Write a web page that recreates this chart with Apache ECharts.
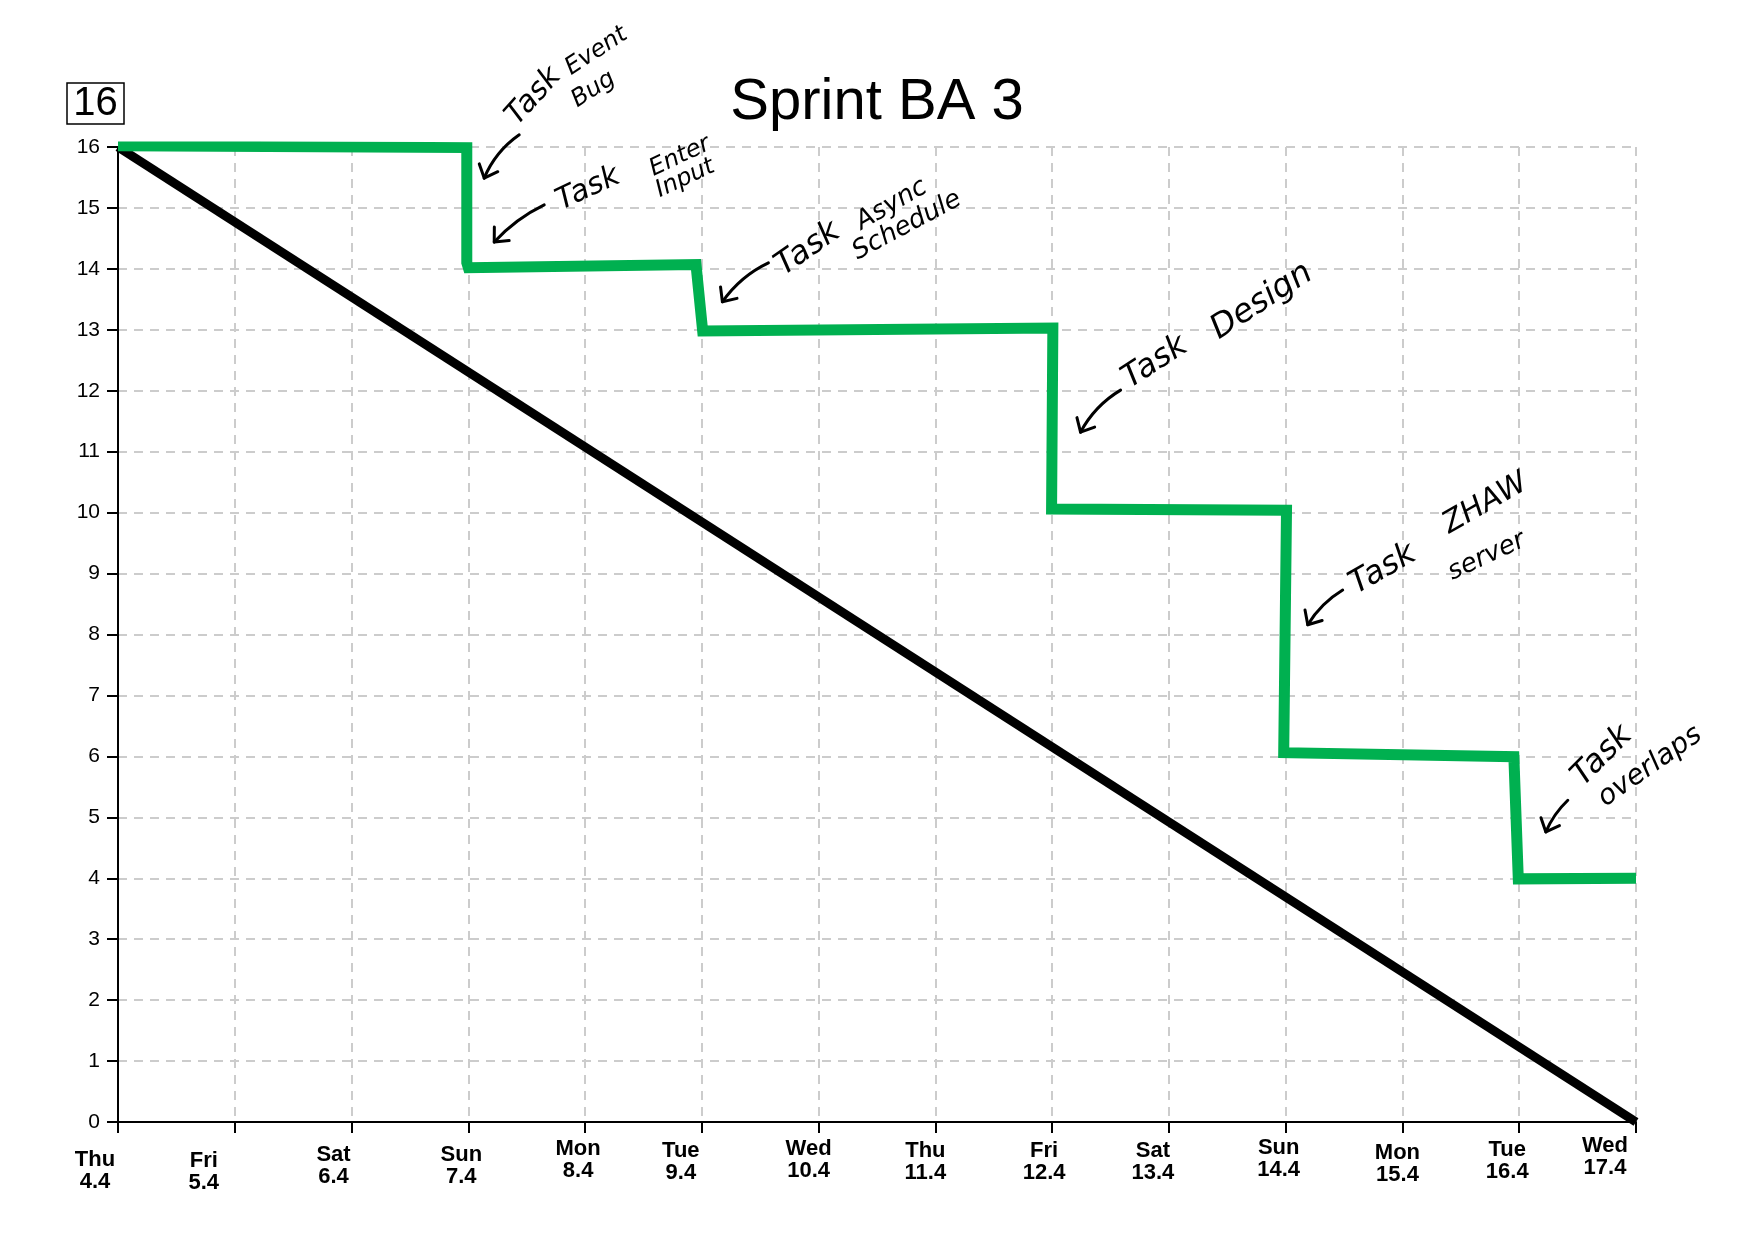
<!DOCTYPE html>
<html>
<head>
<meta charset="utf-8">
<script src="https://cdn.jsdelivr.net/npm/echarts@6/dist/echarts.min.js"></script>
<style>
  html, body { margin: 0; padding: 0; background: #fff; }
  #chart { width: 1754px; height: 1241px; }
</style>
</head>
<body>
<div id="chart"></div>
<script>
// ---------------- data ----------------
const chartTitle = 'Sprint BA 3';
const totalPoints = 16;
const dayNames  = ['Thu','Fri','Sat','Sun','Mon','Tue','Wed','Thu','Fri','Sat','Sun','Mon','Tue','Wed'];
const dayDates  = ['4.4','5.4','6.4','7.4','8.4','9.4','10.4','11.4','12.4','13.4','14.4','15.4','16.4','17.4'];
const yTicks    = [0,1,2,3,4,5,6,7,8,9,10,11,12,13,14,15,16];

// ideal burndown: from total points on day 0 to zero on the last day
const idealX = [0, 13];
const idealY = [16, 0];

// actual (hand-drawn) remaining work, x in days since start
const actualX = [0, 2.987, 2.987, 3.0, 4.95, 5.007, 8.006, 7.995, 10.007, 9.983, 11.954, 11.992, 13];
const actualY = [16.02, 15.99, 14.1, 14.02, 14.07, 12.98, 13.03, 10.06, 10.04, 6.06, 5.995, 3.99, 4.0];

// handwritten notes: text pieces anchored in data units (day, points)
const noteTexts  = ['Task','Event','Bug','Task','Enter','Input','Task','Async','Schedule','Task','Design','Task','ZHAW','server','Task','overlaps'];
const noteX      = [3.465,3.907,3.959,3.823,4.606,4.661,5.738,6.395,6.358,8.700,9.463,10.637,11.431,11.450,12.592,12.770];
const noteY      = [16.26,17.10,16.57,14.86,15.44,15.09,13.78,14.55,14.06,11.93,12.73,8.55,9.55,8.80,5.41,5.08];
// arrows: start -> tip, in data units
const arrowFromX = [3.436, 3.650, 5.570, 8.586, 10.488, 12.416];
const arrowFromY = [16.20, 15.05, 14.10, 12.01, 8.73, 5.28];
const arrowToX   = [3.136, 3.222, 5.176, 8.243, 10.189, 12.228];
const arrowToY   = [15.49, 14.44, 13.46, 11.32, 8.16, 4.76];

// ---------------- style ----------------
const noteAngle = [48,33,33,25,25,25,35,30,28,33,33,30,30,25,45,35];
const noteSize  = [30,24,24,30,24,24,32,26,26,32,33,32,30,26,32,28];
const arrowBow  = [8, 6, 8, 8, 6, 4];
// x-axis label nudges (scan wobble): [left shift, down shift] in px
const labelShiftX = [23, 31, 18, 7, 7, 21, 10, 10, 8, 16, 7, 5, 12, 31];
const labelShiftY = [13.6, 15, 9.3, 9.3, 2.6, 5, 2.6, 5, 5, 5, 1.6, 7, 4.3, 0];
const GREEN = '#00B050';
const GRID_COLOR = '#cccccc';
const XLABEL_FONT = '"Liberation Sans Narrow", "Liberation Sans", Arial, sans-serif';

const rich = {};
dayNames.forEach((_, i) => {
  rich['t' + i] = { fontFamily: XLABEL_FONT, fontWeight: 'bold', fontSize: 22, lineHeight: 22 + labelShiftY[i],
                    color: '#000', padding: [labelShiftY[i], 2 * labelShiftX[i], 0, 0], verticalAlign: 'bottom' };
  rich['d' + i] = { fontFamily: XLABEL_FONT, fontWeight: 'bold', fontSize: 22, lineHeight: 22,
                    color: '#000', padding: [0, 2 * labelShiftX[i], 0, 0] };
});

const chart = echarts.init(document.getElementById('chart'), null, {renderer: 'canvas'});

const option = {
  animation: false,
  backgroundColor: '#ffffff',
  title: {
    text: chartTitle,
    left: 'center',
    top: 74,
    padding: 0,
    textStyle: { fontFamily: 'Liberation Sans', fontSize: 58, fontWeight: 'normal', color: '#000' }
  },
  grid: { left: 118, right: 118, top: 147, bottom: 119, containLabel: false },
  xAxis: {
    type: 'value', min: 0, max: dayNames.length - 1, interval: 1,
    axisLine: { show: true, onZero: false, lineStyle: { color: '#000', width: 2 } },
    axisTick: { show: true, inside: false, length: 11, lineStyle: { color: '#000', width: 2 } },
    axisLabel: {
      margin: 13,
      color: '#000',
      fontFamily: XLABEL_FONT,
      fontWeight: 'bold',
      fontSize: 22,
      lineHeight: 22,
      rich: rich,
      formatter: function (v) { return '{t' + v + '|' + dayNames[v] + '}\n{d' + v + '|' + dayDates[v] + '}'; }
    },
    splitLine: { show: true, lineStyle: { color: GRID_COLOR, width: 2, type: [9, 7] } }
  },
  yAxis: {
    type: 'value', min: yTicks[0], max: yTicks[yTicks.length - 1], interval: 1,
    axisLine: { show: true, onZero: false, lineStyle: { color: '#000', width: 2 } },
    axisTick: { show: true, inside: false, length: 11, lineStyle: { color: '#000', width: 2 } },
    axisLabel: { margin: 18, color: '#000', fontFamily: 'Liberation Sans', fontSize: 21 },
    splitLine: { show: true, lineStyle: { color: GRID_COLOR, width: 2, type: [9, 7] } }
  },
  series: [
    {
      name: 'Ideal', type: 'line', showSymbol: false, symbol: 'none', silent: true,
      data: idealX.map((x, i) => [x, idealY[i]]),
      lineStyle: { color: '#000', width: 9, cap: 'butt' },
      z: 3
    },
    {
      name: 'Actual', type: 'line', showSymbol: false, symbol: 'none', silent: true,
      data: actualX.map((x, i) => [x, actualY[i]]),
      lineStyle: { color: GREEN, width: 11, cap: 'butt', join: 'miter' },
      z: 4
    }
  ]
};
chart.setOption(option);

// ---------- annotations (positioned through the chart's own scales) ----------
function px(x, y) { return chart.convertToPixel({ gridIndex: 0 }, [x, y]); }
const graphics = [];

// total-points box
graphics.push({
  type: 'rect', shape: { x: 67, y: 83, width: 57, height: 41 },
  style: { fill: 'none', stroke: '#000', lineWidth: 1.5 }, z: 10
});
graphics.push({
  type: 'text', x: 95.5, y: 104,
  style: { text: String(totalPoints), font: '40px "Liberation Sans"', fill: '#000',
           align: 'center', verticalAlign: 'middle', textAlign: 'center', textVerticalAlign: 'middle' },
  z: 10
});

const noteFont = '"DejaVu Sans", "Noto Sans", sans-serif';
noteTexts.forEach((t, i) => {
  const p = px(noteX[i], noteY[i]);
  graphics.push({
    type: 'text', x: p[0], y: p[1], rotation: noteAngle[i] * Math.PI / 180,
    style: { text: t, font: 'italic ' + noteSize[i] + 'px ' + noteFont, fill: '#000',
             align: 'left', verticalAlign: 'bottom', textAlign: 'left', textVerticalAlign: 'bottom' },
    z: 10
  });
});

arrowFromX.forEach((_, i) => {
  const a = px(arrowFromX[i], arrowFromY[i]);
  const b = px(arrowToX[i], arrowToY[i]);
  const dx = b[0] - a[0], dy = b[1] - a[1];
  const len = Math.hypot(dx, dy);
  const nx = -dy / len, ny = dx / len;
  const cp = [(a[0] + b[0]) / 2 + nx * arrowBow[i], (a[1] + b[1]) / 2 + ny * arrowBow[i]];
  graphics.push({
    type: 'bezierCurve',
    shape: { x1: a[0], y1: a[1], x2: b[0], y2: b[1], cpx1: cp[0], cpy1: cp[1] },
    style: { stroke: '#000', lineWidth: 3, fill: 'none', lineCap: 'round' }, z: 10
  });
  // arrow head
  let ux = b[0] - cp[0], uy = b[1] - cp[1];
  const ul = Math.hypot(ux, uy); ux /= ul; uy /= ul;
  const L = 15, ang = 42 * Math.PI / 180;
  const rot = (vx, vy, t) => [vx * Math.cos(t) - vy * Math.sin(t), vx * Math.sin(t) + vy * Math.cos(t)];
  const h1 = rot(-ux, -uy, ang), h2 = rot(-ux, -uy, -ang);
  graphics.push({
    type: 'polyline',
    shape: { points: [[b[0] + h1[0] * L, b[1] + h1[1] * L], [b[0], b[1]], [b[0] + h2[0] * L, b[1] + h2[1] * L]] },
    style: { stroke: '#000', lineWidth: 3, fill: 'none', lineCap: 'round', lineJoin: 'round' }, z: 10
  });
});

chart.setOption({ graphic: graphics });
</script>
</body>
</html>
